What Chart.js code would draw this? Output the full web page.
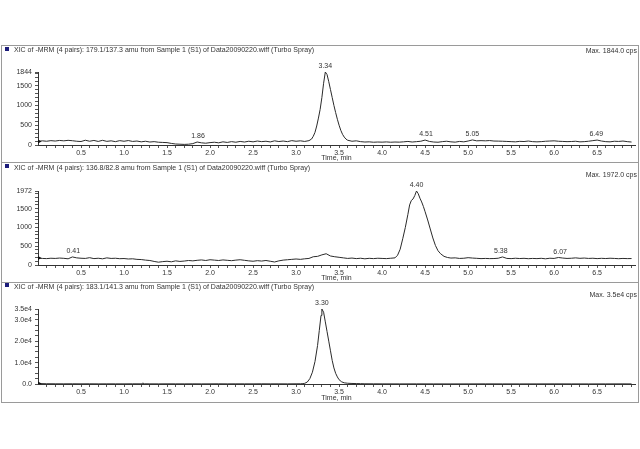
<!DOCTYPE html>
<html>
<head>
<meta charset="utf-8">
<script src="https://cdn.jsdelivr.net/npm/chart.js@4/dist/chart.umd.min.js"></script>
<style>
body { margin: 0; background: #fff; width: 640px; height: 449px; overflow: hidden; position: relative; font-family: "Liberation Sans", Arial, sans-serif; }
#frame { position: absolute; left: 1px; top: 45px; width: 636px; height: 356px; border: 1px solid #9a9a9a; }
.sep { position: absolute; left: 1px; width: 638px; height: 1px; background: #9a9a9a; }
.head { position: absolute; left: 14px; font-size: 7px; line-height: 8px; color: #333; white-space: nowrap; z-index: 2; }
.max { position: absolute; right: 3px; font-size: 7px; line-height: 8px; color: #333; white-space: nowrap; z-index: 2; }
.mark { position: absolute; left: 5px; width: 4px; height: 4px; background: #1c1c7a; z-index: 2; }
canvas { position: absolute; left: 0; }
</style>
</head>
<body>
<div id="frame"></div>
<div class="sep" style="top:162px"></div>
<div class="sep" style="top:282px"></div>

<div class="mark" style="top:47px"></div>
<div class="head" style="top:46px">XIC of -MRM (4 pairs): 179.1/137.3 amu from Sample 1 (S1) of Data20090220.wiff (Turbo Spray)</div>
<div class="max" style="top:47px">Max. 1844.0 cps</div>
<canvas id="c1" width="640" height="117" style="top:45px"></canvas>

<div class="mark" style="top:164px"></div>
<div class="head" style="top:164px">XIC of -MRM (4 pairs): 136.8/82.8 amu from Sample 1 (S1) of Data20090220.wiff (Turbo Spray)</div>
<div class="max" style="top:171px">Max. 1972.0 cps</div>
<canvas id="c2" width="640" height="120" style="top:162px"></canvas>

<div class="mark" style="top:283px"></div>
<div class="head" style="top:283px">XIC of -MRM (4 pairs): 183.1/141.3 amu from Sample 1 (S1) of Data20090220.wiff (Turbo Spray)</div>
<div class="max" style="top:291px">Max. 3.5e4 cps</div>
<canvas id="c3" width="640" height="120" style="top:282px"></canvas>

<script>
// time axis labels (min)
const xLabels = [0.5, 1.0, 1.5, 2.0, 2.5, 3.0, 3.5, 4.0, 4.5, 5.0, 5.5, 6.0, 6.5];

// 179.1/137.3
const p1Times = [
    0.00, 0.05, 0.10, 0.15, 0.20, 0.25, 0.30, 0.35, 0.40, 0.45,
    0.50, 0.55, 0.60, 0.65, 0.70, 0.75, 0.80, 0.85, 0.90, 0.95,
    1.00, 1.05, 1.10, 1.15, 1.20, 1.25, 1.30, 1.35, 1.40, 1.45,
    1.50, 1.55, 1.60, 1.65, 1.70, 1.75, 1.80, 1.85, 1.90, 1.95,
    2.00, 2.05, 2.10, 2.15, 2.20, 2.25, 2.30, 2.35, 2.40, 2.45,
    2.50, 2.55, 2.60, 2.65, 2.70, 2.75, 2.80, 2.85, 2.90, 2.95,
    3.00, 3.05, 3.10, 3.15,
    3.18, 3.20, 3.22, 3.24, 3.26, 3.28, 3.30, 3.32, 3.34, 3.36,
    3.38, 3.40, 3.42, 3.44, 3.46, 3.48, 3.50, 3.52, 3.54, 3.56,
    3.58, 3.60,
    3.65, 3.70, 3.75, 3.80, 3.85, 3.90, 3.95, 4.00, 4.05, 4.10,
    4.15, 4.20, 4.25, 4.30, 4.35, 4.40, 4.45, 4.50, 4.55, 4.60,
    4.65, 4.70, 4.75, 4.80, 4.85, 4.90, 4.95, 5.00, 5.05, 5.10,
    5.15, 5.20, 5.25, 5.30, 5.35, 5.40, 5.45, 5.50, 5.55, 5.60,
    5.65, 5.70, 5.75, 5.80, 5.85, 5.90, 5.95, 6.00, 6.05, 6.10,
    6.15, 6.20, 6.25, 6.30, 6.35, 6.40, 6.45, 6.50, 6.55, 6.60,
    6.65, 6.70, 6.75, 6.80, 6.85, 6.90
];
const p1Counts = [
    90, 105, 95, 110, 100, 115, 105, 118, 108, 95,
    88, 120, 95, 115, 90, 118, 92, 105, 85, 110,
    95, 112, 90, 100, 80, 95, 75, 85, 70, 65,
    60, 40, 25, 20, 15, 20, 35, 75, 55, 45,
    60, 70, 55, 80, 65, 85, 70, 90, 75, 95,
    80, 100, 85, 95, 78, 105, 88, 100, 85, 110,
    95, 105, 90, 110,
    150, 220, 320, 480, 680, 900, 1200, 1560, 1844, 1780,
    1600, 1400, 1200, 1000, 820, 650, 500, 370, 270, 200,
    150, 120,
    95, 105, 85, 75, 80, 70, 75, 72, 78, 70,
    75, 72, 80, 90, 75, 85, 95, 125, 90, 75,
    70, 85, 95, 80, 72, 90, 80, 100, 128, 105,
    110, 105, 112, 100, 98, 95, 90, 85, 80, 92,
    88, 100, 85, 80, 85, 95, 100, 105, 95, 90,
    85, 88, 95, 80, 85, 95, 110, 125, 100, 85,
    80, 95, 90, 100, 85, 75
];
const p1Ticks = [0, 500, 1000, 1500, 1844];
const p1Peaks = [1.86, 3.34, 4.51, 5.05, 6.49];

// 136.8/82.8
const p2Times = [
    0.00, 0.05, 0.10, 0.15, 0.20, 0.25, 0.30, 0.35, 0.40, 0.45,
    0.50, 0.55, 0.60, 0.65, 0.70, 0.75, 0.80, 0.85, 0.90, 0.95,
    1.00, 1.05, 1.10, 1.15, 1.20, 1.25, 1.30, 1.35, 1.40, 1.45,
    1.50, 1.55, 1.60, 1.65, 1.70, 1.75, 1.80, 1.85, 1.90, 1.95,
    2.00, 2.05, 2.10, 2.15, 2.20, 2.25, 2.30, 2.35, 2.40, 2.45,
    2.50, 2.55, 2.60, 2.65, 2.70, 2.75, 2.80, 2.85, 2.90, 2.95,
    3.00, 3.05, 3.10, 3.15, 3.20, 3.25, 3.30, 3.35, 3.40, 3.45,
    3.50, 3.55, 3.60, 3.65, 3.70, 3.75, 3.80, 3.85, 3.90, 3.95,
    4.00, 4.05, 4.10, 4.15,
    4.18, 4.21, 4.24, 4.27, 4.30, 4.32, 4.34, 4.36, 4.38, 4.40,
    4.42, 4.44, 4.46, 4.48, 4.50, 4.53, 4.56, 4.59, 4.62, 4.65,
    4.68, 4.72, 4.76,
    4.80, 4.85, 4.90, 4.95, 5.00, 5.05, 5.10, 5.15, 5.20, 5.25,
    5.30, 5.35, 5.40, 5.45, 5.50, 5.55, 5.60, 5.65, 5.70, 5.75,
    5.80, 5.85, 5.90, 5.95, 6.00, 6.05, 6.10, 6.15, 6.20, 6.25,
    6.30, 6.35, 6.40, 6.45, 6.50, 6.55, 6.60, 6.65, 6.70, 6.75,
    6.80, 6.85, 6.90
];
const p2Counts = [
    185, 175, 170, 180, 175, 185, 178, 165, 215, 190,
    180, 175, 195, 170, 180, 165, 190, 175, 180, 168,
    172, 160, 165, 150, 145, 130, 120, 95, 75, 90,
    100, 85, 110, 95, 105, 120, 110, 125, 135, 120,
    140, 130, 120, 135, 125, 115, 130, 140, 125, 110,
    100, 115, 105, 120, 100, 80, 110, 130, 140, 150,
    160, 150, 165, 175, 220, 230, 270, 300, 240, 220,
    205, 190, 175, 185, 170, 180, 165, 178, 170, 180,
    175, 170, 180, 190,
    260, 420, 700, 1000, 1350, 1600, 1720, 1760, 1850, 1972,
    1900, 1780, 1680, 1560, 1420, 1200, 960, 720, 520, 380,
    300, 230, 200,
    185, 190, 175, 180, 195, 185, 178, 170, 175, 170,
    172, 180, 215, 175, 170, 180, 172, 178, 168, 175,
    170, 178, 165, 180, 175, 200, 185, 175, 180, 190,
    178, 185, 175, 180, 170, 178, 172, 180, 175, 168,
    175, 170, 172
];
const p2Ticks = [0, 500, 1000, 1500, 1972];
const p2Peaks = [0.41, 4.40, 5.38, 6.07];

// 183.1/141.3
const p3Times = [
    0.00, 0.10, 0.20, 0.30, 0.40, 0.50, 0.60, 0.70, 0.80, 0.90,
    1.00, 1.10, 1.20, 1.22, 1.24, 1.30, 1.40, 1.50, 1.60, 1.70,
    1.80, 1.90, 2.00, 2.10, 2.20, 2.30, 2.40, 2.50, 2.60, 2.70,
    2.80, 2.90, 3.00, 3.05, 3.08,
    3.10, 3.13, 3.16, 3.19, 3.22, 3.25, 3.27, 3.29, 3.30, 3.32,
    3.34, 3.36, 3.38, 3.40, 3.42, 3.44, 3.46, 3.48, 3.50, 3.53,
    3.56, 3.60, 3.65, 3.70, 3.75, 3.80,
    3.90, 4.00, 4.20, 4.40, 4.60, 4.80, 5.00, 5.20, 5.40, 5.60,
    5.80, 6.00, 6.20, 6.40, 6.60, 6.80, 6.90
];
const p3Counts = [
    200, 120, 90, 80, 100, 70, 90, 60, 80, 70,
    60, 90, 80, 400, 90, 70, 60, 80, 70, 60,
    80, 60, 70, 90, 60, 80, 70, 60, 90, 70,
    80, 60, 90, 100, 150,
    300, 900, 2500, 5500, 10500, 18000, 25000, 32000, 35000, 33500,
    29000, 24500, 20000, 15500, 11000, 7500, 5000, 3300, 2000, 1000,
    550, 350, 250, 200, 150, 100,
    80, 60, 50, 60, 50, 40, 50, 60, 50, 40,
    50, 60, 50, 40, 50, 60, 50
];
const p3Ticks = [0, 10000, 20000, 30000, 35000];
const p3Peaks = [3.30];

const peakLabels = {
    id: 'peakLabels',
    afterDatasetsDraw(chart, args, opts) {
        const ctx = chart.ctx;
        const xs = chart.scales.x;
        const ys = chart.scales.y;
        const pts = chart.data.datasets[0].data;
        ctx.save();
        ctx.font = '7px "Liberation Sans", Arial, sans-serif';
        ctx.fillStyle = '#333';
        ctx.textAlign = 'center';
        ctx.textBaseline = 'bottom';
        opts.times.forEach(t => {
            let top = 0;
            pts.forEach(p => { if (Math.abs(p.x - t) <= 0.05 && p.y > top) top = p.y; });
            ctx.fillText(t.toFixed(2), xs.getPixelForValue(t), ys.getPixelForValue(top) - 2);
        });
        ctx.restore();
    }
};

function drawPanel(id, times, counts, yTicks, yMinor, yFormat, peaks, padTop, axisHeight) {
    const data = {
        datasets: [{
            data: times.map((t, i) => ({ x: t, y: counts[i] })),
            borderColor: '#2a2a2a',
            borderWidth: 1,
            tension: 0,
            pointRadius: c => c.dataIndex === 0 ? 3.5 : 0,
            pointStyle: 'triangle',
            rotation: 90,
            pointBackgroundColor: '#111',
            pointBorderColor: '#111',
            pointBorderWidth: 0,
        }],
    };
    const yMax = yTicks[yTicks.length - 1];
    const config = {
        type: 'line',
        data: data,
        plugins: [peakLabels],
        options: {
            responsive: false,
            animation: false,
            events: [],
            layout: { padding: { top: padTop, right: 5, bottom: 0, left: 0 } },
            plugins: {
                legend: { display: false },
                tooltip: { enabled: false },
                peakLabels: { times: peaks },
            },
            scales: {
                x: {
                    type: 'linear',
                    min: 0,
                    max: 6.94,
                    afterBuildTicks: s => {
                        let ticks = [];
                        for (let k = 1; k <= 69; k++) ticks.push({ value: k / 10 });
                        s.ticks = ticks;
                    },
                    afterFit: s => { s.height = axisHeight; },
                    ticks: {
                        autoSkip: false,
                        maxRotation: 0,
                        padding: 1,
                        color: '#333',
                        font: { size: 7, family: '"Liberation Sans", Arial, sans-serif' },
                        callback: v => xLabels.some(l => Math.abs(l - v) < 1e-6) ? v.toFixed(1) : '',
                    },
                    grid: { drawOnChartArea: false, drawTicks: true, tickLength: 3, color: '#555' },
                    border: { color: '#333' },
                    title: {
                        display: true,
                        text: 'Time, min',
                        color: '#333',
                        padding: 0,
                        font: { size: 7, family: '"Liberation Sans", Arial, sans-serif' },
                    },
                },
                y: {
                    min: 0,
                    max: yMax,
                    afterBuildTicks: s => {
                        let ticks = [];
                        for (let v = 0; v < yMax; v += yMinor) ticks.push({ value: v });
                        ticks.push({ value: yMax });
                        s.ticks = ticks;
                    },
                    afterFit: s => { s.width = 38; },
                    ticks: {
                        autoSkip: false,
                        padding: 3,
                        color: '#333',
                        font: { size: 7, family: '"Liberation Sans", Arial, sans-serif' },
                        callback: v => yTicks.includes(v) ? yFormat(v) : '',
                    },
                    grid: { drawOnChartArea: false, drawTicks: true, tickLength: 3, color: '#555' },
                    border: { color: '#333' },
                },
            },
        },
    };
    var ctx = document.getElementById(id).getContext("2d");
    new Chart(ctx, config);
}

drawPanel('c1', p1Times, p1Counts, p1Ticks, 100, v => String(v), p1Peaks, 27, 17);
drawPanel('c2', p2Times, p2Counts, p2Ticks, 100, v => String(v), p2Peaks, 29, 17);
drawPanel('c3', p3Times, p3Counts, p3Ticks, 2500, v => v === 0 ? '0.0' : (v / 10000).toFixed(1) + 'e4', p3Peaks, 27, 18);
</script>
</body>
</html>
